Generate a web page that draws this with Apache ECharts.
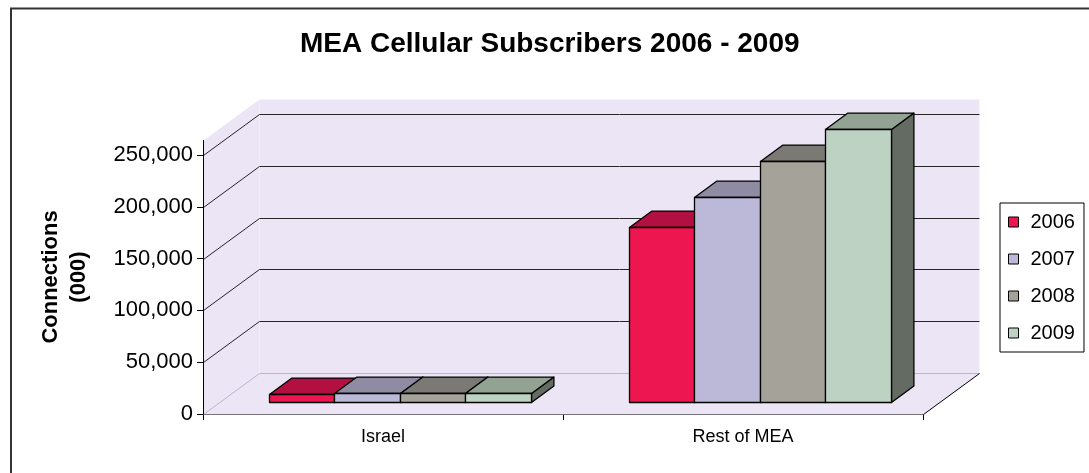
<!DOCTYPE html>
<html>
<head>
<meta charset="utf-8">
<script src="https://cdn.jsdelivr.net/npm/echarts@6/dist/echarts.min.js"></script>
<style>
html, body { margin: 0; padding: 0; background: #ffffff; }
#chart { width: 1089px; height: 473px; }
</style>
</head>
<body>
<div id="chart"></div>
<script>
// Cellular connections, thousands
const categories = ['Israel', 'Rest of MEA'];
const years = ['2006', '2007', '2008', '2009'];
const subs2006 = [7800, 169000];
const subs2007 = [8100, 197500];
const subs2008 = [8300, 232500];
const subs2009 = [8500, 263000];
const yTicks = [0, 50000, 100000, 150000, 200000, 250000];
const wallTop = 264000;

const FONT = "'Liberation Sans', Arial, Helvetica, sans-serif";

// Oblique depth of the plot box (pixels) and where the bar slab sits inside it
const DEPTH_X = 56, DEPTH_Y = -41;
const BAR_FRONT = 0.3, BAR_BACK = 0.7;
const GROUP_FRAC = 0.728;

const FRONT = ['#EE1651', '#BBB9D7', '#A5A29A', '#BED2C3'];
const TOP   = ['#B11040', '#8E8BA2', '#7B7974', '#92A394'];
const SIDE  = ['#8A0C33', '#6E6C80', '#5E5D59', '#636B62'];
const WALL  = '#ECE5F5';

const seriesValues = [subs2006, subs2007, subs2008, subs2009];

function crisp(v) { return Math.round(v) + 0.5; }

function renderWalls(params, api) {
  const bw = api.size([1, 0])[0];
  const x0 = crisp(api.coord([0, 0])[0] - bw / 2);
  const x1 = crisp(api.coord([categories.length - 1, 0])[0] + bw / 2);
  const yz = crisp(api.coord([0, 0])[1]);
  const yt = api.coord([0, wallTop])[1];
  const dx = DEPTH_X, dy = DEPTH_Y;
  const children = [];
  // back wall, side wall, floor
  children.push({ type: 'polygon', shape: { points: [[x0 + dx, yt + dy], [x1 + dx, yt + dy], [x1 + dx, yz + dy], [x0 + dx, yz + dy]] }, style: { fill: WALL } });
  children.push({ type: 'polygon', shape: { points: [[x0, yt], [x0 + dx, yt + dy], [x0 + dx, yz + dy], [x0, yz]] }, style: { fill: WALL } });
  children.push({ type: 'polygon', shape: { points: [[x0, yz], [x1, yz], [x1 + dx, yz + dy], [x0 + dx, yz + dy]] }, style: { fill: WALL } });
  // gridlines: diagonal on the side wall, horizontal on the back wall
  yTicks.forEach(function (v) {
    const y = crisp(api.coord([0, v])[1]);
    const zero = v === 0;
    children.push({
      type: 'polyline',
      shape: { points: [[x0, y], [x0 + dx, y + dy], [x1 + dx, y + dy]] },
      style: { stroke: zero ? '#BDB3CC' : '#262626', lineWidth: 1, fill: null }
    });
  });
  // right floor edge
  children.push({ type: 'line', shape: { x1: x1, y1: yz, x2: x1 + dx, y2: yz + dy }, style: { stroke: '#000', lineWidth: 1 } });
  // front value axis line
  children.push({ type: 'line', shape: { x1: x0, y1: Math.round(yt), x2: x0, y2: yz }, style: { stroke: '#000', lineWidth: 1 } });
  return { type: 'group', silent: true, children: children };
}

function renderBar(params, api) {
  const s = params.seriesIndex - 1;
  const cat = api.value(0);
  const val = api.value(1);
  const bw = api.size([1, 0])[0];
  const cx = api.coord([cat, 0])[0];
  const barW = bw * GROUP_FRAC / years.length;
  const fx = BAR_FRONT * DEPTH_X, fy = BAR_FRONT * DEPTH_Y;
  const ddx = (BAR_BACK - BAR_FRONT) * DEPTH_X, ddy = (BAR_BACK - BAR_FRONT) * DEPTH_Y;
  const left = Math.round(cx - bw * GROUP_FRAC / 2 + s * barW + fx) + 0.5;
  const right = Math.round(cx - bw * GROUP_FRAC / 2 + (s + 1) * barW + fx) + 0.5;
  const yb = Math.round(api.coord([cat, 0])[1] + fy) + 0.5;
  const yt = Math.round(api.coord([cat, val])[1] + fy) + 0.5;
  const line = { stroke: '#000', lineWidth: 1.3, lineJoin: 'round' };
  return {
    type: 'group',
    children: [
      { type: 'polygon', shape: { points: [[right, yt], [right + ddx, yt + ddy], [right + ddx, yb + ddy], [right, yb]] }, style: Object.assign({ fill: SIDE[s] }, line) },
      { type: 'polygon', shape: { points: [[left, yt], [left + ddx, yt + ddy], [right + ddx, yt + ddy], [right, yt]] }, style: Object.assign({ fill: TOP[s] }, line) },
      { type: 'polygon', shape: { points: [[left, yt], [right, yt], [right, yb], [left, yb]] }, style: Object.assign({ fill: FRONT[s] }, line) }
    ]
  };
}

const chart = echarts.init(document.getElementById('chart'), null, { renderer: 'canvas' });

const series = [{
  type: 'custom',
  name: 'walls',
  z: 1,
  silent: true,
  renderItem: renderWalls,
  encode: { x: 0, y: 1 },
  data: [[0, 0]]
}];
years.forEach(function (yr, i) {
  series.push({
    type: 'custom',
    name: yr,
    z: 2 + i,
    renderItem: renderBar,
    itemStyle: { color: FRONT[i], borderColor: '#000', borderWidth: 1 },
    encode: { x: 0, y: 1 },
    data: categories.map(function (c, j) { return [j, seriesValues[i][j]]; })
  });
});

chart.setOption({
  animation: false,
  backgroundColor: '#ffffff',
  title: {
    text: 'MEA Cellular Subscribers 2006 - 2009',
    left: 300,
    top: 30,
    padding: 0,
    textStyle: { fontFamily: FONT, fontSize: 28, fontWeight: 'bold', color: '#000' }
  },
  legend: {
    orient: 'vertical',
    left: 1000,
    top: 203,
    padding: [9, 9, 9, 8],
    itemGap: 17,
    itemWidth: 10,
    itemHeight: 10,
    borderColor: '#000',
    borderWidth: 1,
    selectedMode: false,
    textStyle: { fontFamily: FONT, fontSize: 20, color: '#000', padding: [0, 0, 0, 7] },
    data: years.map(function (yr, i) {
      return { name: yr, icon: 'rect', itemStyle: { color: FRONT[i], borderColor: '#000', borderWidth: 1 } };
    })
  },
  grid: { left: 203, right: 166, top: 155, bottom: 59, outerBoundsMode: 'none' },
  xAxis: {
    type: 'category',
    data: categories,
    axisLine: { show: true, lineStyle: { color: '#000', width: 1 } },
    axisTick: { show: true, length: 6, lineStyle: { color: '#000' } },
    axisLabel: { fontFamily: FONT, fontSize: 18, color: '#000', margin: 14 },
    splitLine: { show: false }
  },
  yAxis: {
    type: 'value',
    min: 0,
    max: 250000,
    interval: 50000,
    axisLine: { show: false },
    axisTick: { show: true, length: 6, lineStyle: { color: '#000' } },
    axisLabel: {
      fontFamily: FONT, fontSize: 22, color: '#000', margin: 10,
      formatter: function (v) { return v.toLocaleString('en-US'); }
    },
    splitLine: { show: false }
  },
  graphic: [
    {
      type: 'rect',
      silent: true,
      shape: { x: 11, y: 8.5, width: 1200, height: 600 },
      style: { fill: null, stroke: '#333', lineWidth: 2 }
    },
    {
      type: 'text',
      x: 65,
      y: 277,
      rotation: Math.PI / 2,
      style: {
        text: 'Connections\n(000)',
        font: 'bold 22px ' + FONT,
        lineHeight: 28,
        align: 'center',
        verticalAlign: 'middle',
        fill: '#000'
      }
    }
  ],
  series: series
});
</script>
</body>
</html>
